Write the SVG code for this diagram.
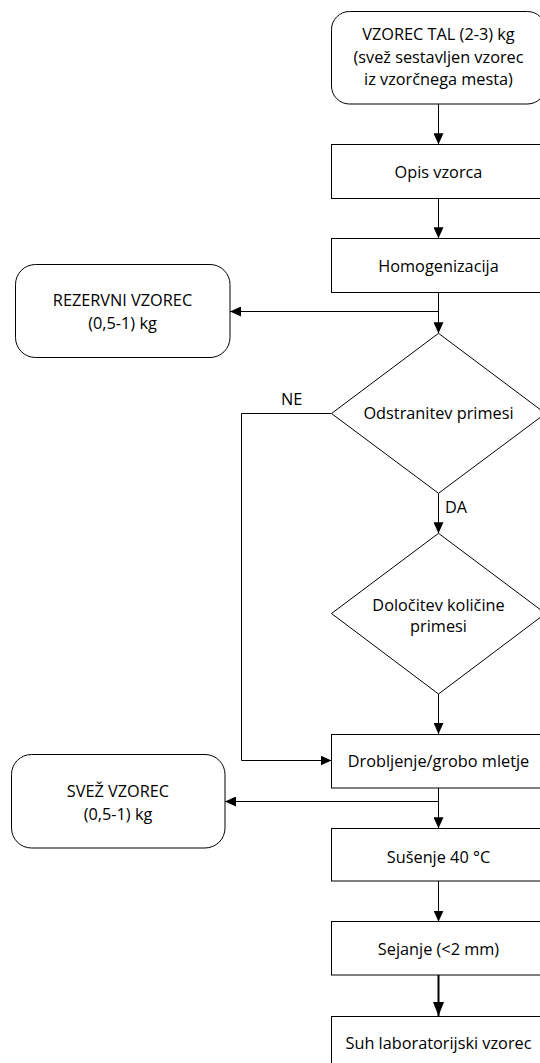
<svg xmlns="http://www.w3.org/2000/svg" width="540" height="1063" viewBox="0 0 540 1063">
<style>
.shape{fill:#fff;stroke:#000;stroke-width:1}
.t{font-family:"Open Sans","Liberation Sans",sans-serif;font-size:16.3px;fill:#000;text-anchor:middle}
.tl{font-family:"Open Sans","Liberation Sans",sans-serif;font-size:16.3px;fill:#000}
.c{fill:none;stroke:#000;stroke-width:1}
.ct{fill:none;stroke:#000;stroke-width:2}
</style>
<defs>
<marker id="ah" viewBox="0 0 11 10" refX="11" refY="5" markerWidth="11" markerHeight="10" markerUnits="userSpaceOnUse" orient="auto">
<path d="M0,0 L11,5 L0,10 z" fill="#000"/>
</marker>
<marker id="ahb" viewBox="0 0 14 11" refX="14" refY="5.5" markerWidth="14" markerHeight="11" markerUnits="userSpaceOnUse" orient="auto">
<path d="M0,0 L14,5.5 L0,11 z" fill="#000"/>
</marker>
</defs>
<rect width="540" height="1063" fill="#fff"/>
<g id="connectors">
<line class="c" x1="438.5" y1="104" x2="438.5" y2="144.3" marker-end="url(#ah)"/>
<line class="c" x1="438.5" y1="198.3" x2="438.5" y2="238.3" marker-end="url(#ah)"/>
<line class="c" x1="438.5" y1="292.3" x2="438.5" y2="333.3" marker-end="url(#ah)"/>
<line class="c" x1="438.5" y1="311.5" x2="230" y2="311.5" marker-end="url(#ah)"/>
<line class="c" x1="438.5" y1="493.3" x2="438.5" y2="533.3" marker-end="url(#ah)"/>
<polyline class="c" points="331.5,413.5 241.5,413.5 241.5,760.5 331.5,760.5" marker-end="url(#ah)"/>
<line class="c" x1="438.5" y1="694" x2="438.5" y2="734" marker-end="url(#ah)"/>
<line class="c" x1="438.5" y1="787.7" x2="438.5" y2="828.3" marker-end="url(#ah)"/>
<line class="c" x1="438.5" y1="801.5" x2="225" y2="801.5" marker-end="url(#ah)"/>
<line class="c" x1="438.5" y1="881" x2="438.5" y2="921.7" marker-end="url(#ah)"/>
<line class="ct" x1="438.5" y1="975" x2="438.5" y2="1016" marker-end="url(#ahb)"/>
<text class="tl" x="281" y="405">NE</text>
<text class="tl" x="445" y="512.7">DA</text>
</g>
<g id="n-vzorec-tal">
<rect class="shape" x="331.5" y="11.5" width="214" height="92.5" rx="18" ry="18"/>
<text class="t" x="438.5" y="40">VZOREC TAL (2-3) kg</text>
<text class="t" x="438.5" y="62.5">(svež sestavljen vzorec</text>
<text class="t" x="438.5" y="85">iz vzorčnega mesta)</text>
</g>
<g id="n-opis">
<rect class="shape" x="331.5" y="144.5" width="214" height="54"/>
<text class="t" x="438.5" y="178">Opis vzorca</text>
</g>
<g id="n-homog">
<rect class="shape" x="331.5" y="238.5" width="214" height="54"/>
<text class="t" x="438.5" y="271.7">Homogenizacija</text>
</g>
<g id="n-rezervni">
<rect class="shape" x="15.5" y="264.5" width="214.5" height="93" rx="20" ry="20"/>
<text class="t" x="122.5" y="306">REZERVNI VZOREC</text>
<text class="t" x="122.5" y="329">(0,5-1) kg</text>
</g>
<g id="n-odstranitev">
<polygon class="shape" points="438.5,333.3 545.5,413.5 438.5,493.3 331.5,413.5"/>
<text class="t" x="438.5" y="419.3">Odstranitev primesi</text>
</g>
<g id="n-dolocitev">
<polygon class="shape" points="438.5,533.3 545.5,613.5 438.5,694 331.5,613.5"/>
<text class="t" x="438.5" y="610.7">Določitev količine</text>
<text class="t" x="438.5" y="631.5">primesi</text>
</g>
<g id="n-drobljenje">
<rect class="shape" x="331.5" y="734.5" width="214" height="53.5"/>
<text class="t" x="438.5" y="767.3">Drobljenje/grobo mletje</text>
</g>
<g id="n-svez">
<rect class="shape" x="11.5" y="754.5" width="213.5" height="93.5" rx="20" ry="20"/>
<text class="t" x="118" y="796.7">SVEŽ VZOREC</text>
<text class="t" x="118" y="820">(0,5-1) kg</text>
</g>
<g id="n-susenje">
<rect class="shape" x="331.5" y="828.5" width="214" height="52.5"/>
<text class="t" x="438.5" y="862.5">Sušenje 40 °C</text>
</g>
<g id="n-sejanje">
<rect class="shape" x="331.5" y="921.5" width="214" height="53.5"/>
<text class="t" x="438.5" y="955">Sejanje (&lt;2 mm)</text>
</g>
<g id="n-suh">
<rect class="shape" x="331.5" y="1016.5" width="214" height="54"/>
<text class="t" x="438.5" y="1049.3">Suh laboratorijski vzorec</text>
</g>
</svg>
